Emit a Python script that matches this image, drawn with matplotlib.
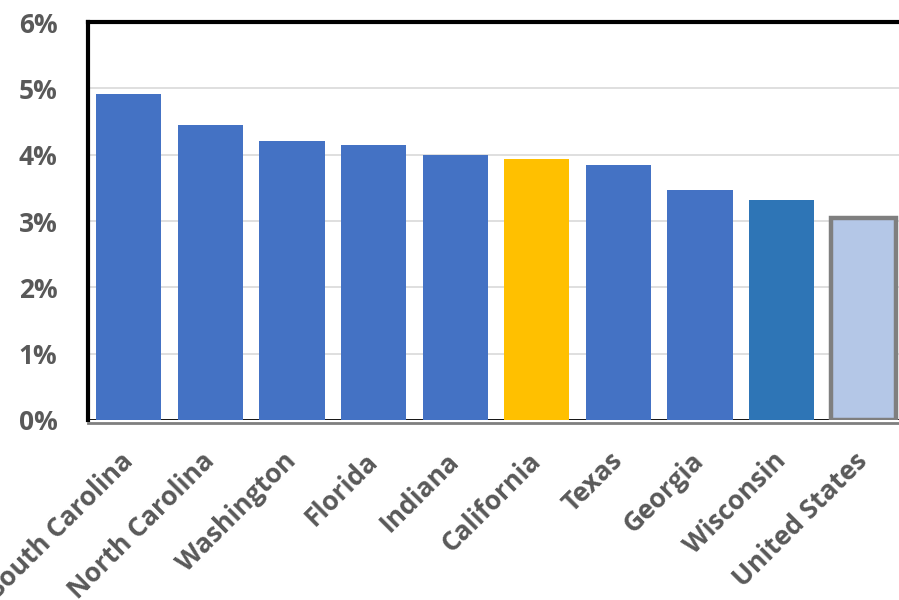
import matplotlib.pyplot as plt
from matplotlib.ticker import PercentFormatter

states = ["South Carolina", "North Carolina", "Washington", "Florida", "Indiana",
          "California", "Texas", "Georgia", "Wisconsin", "United States"]
growth = [4.92, 4.45, 4.21, 4.15, 4.00, 3.94, 3.85, 3.47, 3.32, 3.04]
bar_colors = ["#4472C4"] * 5 + ["#FFC000", "#4472C4", "#4472C4", "#2E75B6", "#B4C7E7"]
edge_colors = ["none"] * 9 + ["#7F7F7F"]

text_gray = "#595959"
plt.rcParams["font.family"] = ["Open Sans", "DejaVu Sans"]

fig = plt.figure(figsize=(8.99, 6), dpi=100)
ax = fig.add_axes([88 / 899, 0.3, 816 / 899, 0.6633])

# spines first: moving a spine resets the ticks of its axis
ax.spines["left"].set_linewidth(3)
ax.spines["left"].set_color("black")
ax.spines["top"].set_linewidth(3)
ax.spines["top"].set_color("black")
ax.spines["right"].set_visible(False)
ax.spines["bottom"].set_color("#7F7F7F")
ax.spines["bottom"].set_linewidth(2)
ax.spines["bottom"].set_position(("outward", 2.5))

x = list(range(len(states)))
ax.bar(x, growth, width=0.8, color=bar_colors, edgecolor=edge_colors,
       linewidth=3.2, zorder=3)
ax.axhline(0, color="black", lw=2, zorder=2)

ax.set_xlim(-0.5, len(states) - 0.5)
ax.set_ylim(0, 6)
ax.set_yticks(range(0, 7))
ax.yaxis.set_major_formatter(PercentFormatter(decimals=0))
ax.yaxis.grid(True, color="#D9D9D9", lw=1.2, zorder=0)
ax.set_axisbelow(True)

ax.tick_params(axis="both", length=0)
ax.tick_params(axis="y", pad=22)
ax.tick_params(axis="x", pad=24)

ax.set_xticks(x)
ax.set_xticklabels(states, rotation=45, ha="right", va="center",
                   rotation_mode="anchor")
for lbl in ax.get_xticklabels() + ax.get_yticklabels():
    lbl.set_fontsize(19)
    lbl.set_fontweight("bold")
    lbl.set_color(text_gray)

fig.savefig("out.png", dpi=100)
